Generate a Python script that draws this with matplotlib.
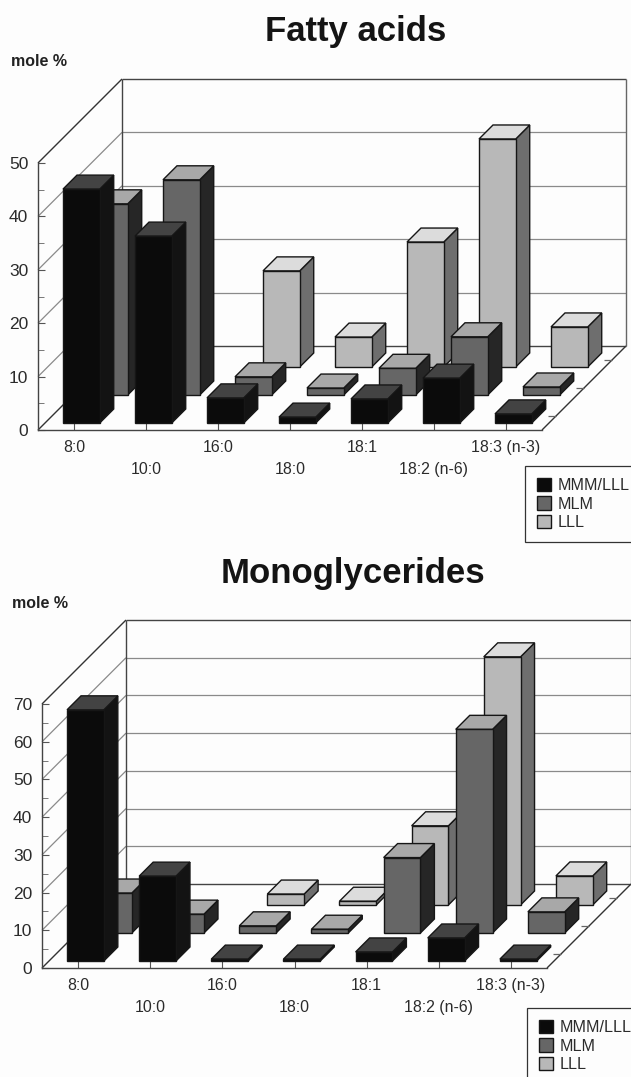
import numpy as np
import matplotlib
matplotlib.use("Agg")
import matplotlib.pyplot as plt
from matplotlib.patches import Polygon, Patch
from matplotlib.ticker import MultipleLocator

plt.rcParams['font.family'] = ['Liberation Sans', 'DejaVu Sans']

categories = ["8:0", "10:0", "16:0", "18:0", "18:1", "18:2 (n-6)", "18:3 (n-3)"]
series_names = ["MMM/LLL", "MLM", "LLL"]

fatty_mmm = [43.8, 35.0, 4.7, 1.1, 4.5, 8.4, 1.7]
fatty_mlm = [35.8, 40.3, 3.4, 1.3, 5.0, 10.9, 1.5]
fatty_lll = [0, 0, 18.0, 5.6, 23.4, 42.7, 7.5]

mono_mmm = [66.6, 22.5, 0.5, 0.5, 2.4, 6.1, 0.5]
mono_mlm = [10.6, 5.0, 1.9, 1.0, 20.0, 54.0, 5.6]
mono_lll = [0, 0, 2.9, 1.0, 21.0, 65.8, 7.7]

W, H = 631, 1077
fig = plt.figure(figsize=(W / 100, H / 100), dpi=100, facecolor="#fdfdfd")

FRONT = ["#0b0b0b", "#666666", "#b8b8b8"]
TOP = ["#434343", "#a8a8a8", "#dcdcdc"]
SIDE = ["#131313", "#262626", "#6e6e6e"]
EDGE = "#161616"
TEXT = "#2b2b2b"
GRID = "#8a8a8a"
DEPTH_PX = 28.0          # one depth row, in pixels


def panel(left, right, bottom, top, ymax, series, title, title_xy, unit_xy, legend_xy):
    ax = fig.add_axes([left / W, 1 - bottom / H, (right - left) / W, (bottom - top) / H])
    ax.set_xlim(0, 7)
    ax.set_ylim(0, ymax)
    ax.patch.set_visible(False)
    ax.set_axisbelow(True)

    sx = DEPTH_PX / ((right - left) / 7)
    sy = DEPTH_PX / ((bottom - top) / ymax)

    def proj(x, z, d):
        return x + d * sx, z + d * sy

    def line(p0, p1, color=GRID, lw=0.9, z=1):
        ax.plot([p0[0], p1[0]], [p0[1], p1[1]], color=color, lw=lw,
                clip_on=False, zorder=z, solid_capstyle="butt")

    # walls and floor
    for v in range(10, ymax, 10):
        line(proj(0, v, 0), proj(0, v, 3))
        line(proj(0, v, 3), proj(7, v, 3))
    line(proj(0, 0, 0), proj(0, 0, 3), "#333333", 1.0)
    line(proj(0, 0, 3), proj(7, 0, 3), "#444444", 1.0)
    line(proj(7, 0, 0), proj(7, 0, 3), "#333333", 1.0)
    line(proj(0, ymax, 0), proj(0, ymax, 3), "#333333", 1.0)
    line(proj(0, ymax, 3), proj(7, ymax, 3), "#444444", 1.0)
    line(proj(0, 0, 3), proj(0, ymax, 3), "#444444", 1.0)
    line(proj(7, 0, 3), proj(7, ymax, 3), "#666666", 1.0)

    # depth ticks along the right floor edge
    for r in range(3):
        x1, y1 = proj(7, 0, r + 0.5)
        line((x1 - 0.11, y1), (x1, y1), "#666666", 0.9)

    # bars: back row first
    for r in (2, 1, 0):
        for i, v in enumerate(series[r]):
            if v <= 0:
                continue
            x0, x1 = i + 0.25, i + 0.76
            d0, d1 = r + 0.25, r + 0.75
            a = proj(x0, 0, d0)
            b = proj(x1, 0, d0)
            c = proj(x1, v, d0)
            e = proj(x0, v, d0)
            f = proj(x0, v, d1)
            g = proj(x1, v, d1)
            h = proj(x1, 0, d1)
            z = 5 - r
            ax.add_patch(Polygon([b, h, g, c], fc=SIDE[r], ec=EDGE, lw=1.0, clip_on=False, zorder=z))
            ax.add_patch(Polygon([e, c, g, f], fc=TOP[r], ec=EDGE, lw=1.0, clip_on=False, zorder=z))
            ax.add_patch(Polygon([a, b, c, e], fc=FRONT[r], ec=EDGE, lw=1.0, clip_on=False, zorder=z))

    # real axes
    for s in ("top", "right"):
        ax.spines[s].set_visible(False)
    for s in ("left", "bottom"):
        ax.spines[s].set_color("#444444")
        ax.spines[s].set_linewidth(1.0)
    ax.yaxis.set_major_locator(MultipleLocator(10))
    ax.yaxis.set_minor_locator(MultipleLocator(5))
    ax.tick_params(axis="y", which="major", direction="in", length=5, width=0.8,
                   color="#555555", labelsize=12.5, labelcolor=TEXT, pad=7)
    ax.tick_params(axis="y", which="minor", direction="in", length=4, width=0.7, color="#777777")
    ax.set_xticks(np.arange(7) + 0.5)
    ax.set_xticklabels(categories)
    ax.tick_params(axis="x", direction="in", length=5, width=0.8, color="#555555",
                   labelsize=11.4, labelcolor=TEXT)
    for i, t in enumerate(ax.xaxis.get_major_ticks()):
        t.set_pad(7 if i % 2 == 0 else 23)

    fig.text(title_xy[0] / W, 1 - title_xy[1] / H, title, fontsize=25, fontweight="bold",
             ha="center", va="center", color="#141414")
    fig.text(unit_xy[0] / W, 1 - unit_xy[1] / H, "mole %", fontsize=11.5, fontweight="bold",
             ha="left", va="center", color="#222222")

    handles = [Patch(fc=FRONT[k], ec=EDGE, lw=1.0, label=series_names[k]) for k in range(3)]
    leg = fig.legend(handles=handles, loc="upper left",
                     bbox_to_anchor=(legend_xy[0] / W, 1 - legend_xy[1] / H),
                     bbox_transform=fig.transFigure, fontsize=11.6, frameon=True, fancybox=False,
                     edgecolor="#333333", facecolor="#fdfdfd", framealpha=1,
                     borderaxespad=0, borderpad=0.75, handlelength=0.875, handleheight=0.875,
                     handletextpad=0.37, labelspacing=0.2, labelcolor=TEXT)
    leg.get_frame().set_linewidth(0.9)


panel(38, 542, 430, 163, 50, [fatty_mmm, fatty_mlm, fatty_lll],
      "Fatty acids", (356, 31), (11, 62), (525, 466))
panel(42, 547, 968, 704, 70, [mono_mmm, mono_mlm, mono_lll],
      "Monoglycerides", (353, 573), (12, 604), (527, 1008))

fig.savefig("out.png", dpi=100, facecolor=fig.get_facecolor())
